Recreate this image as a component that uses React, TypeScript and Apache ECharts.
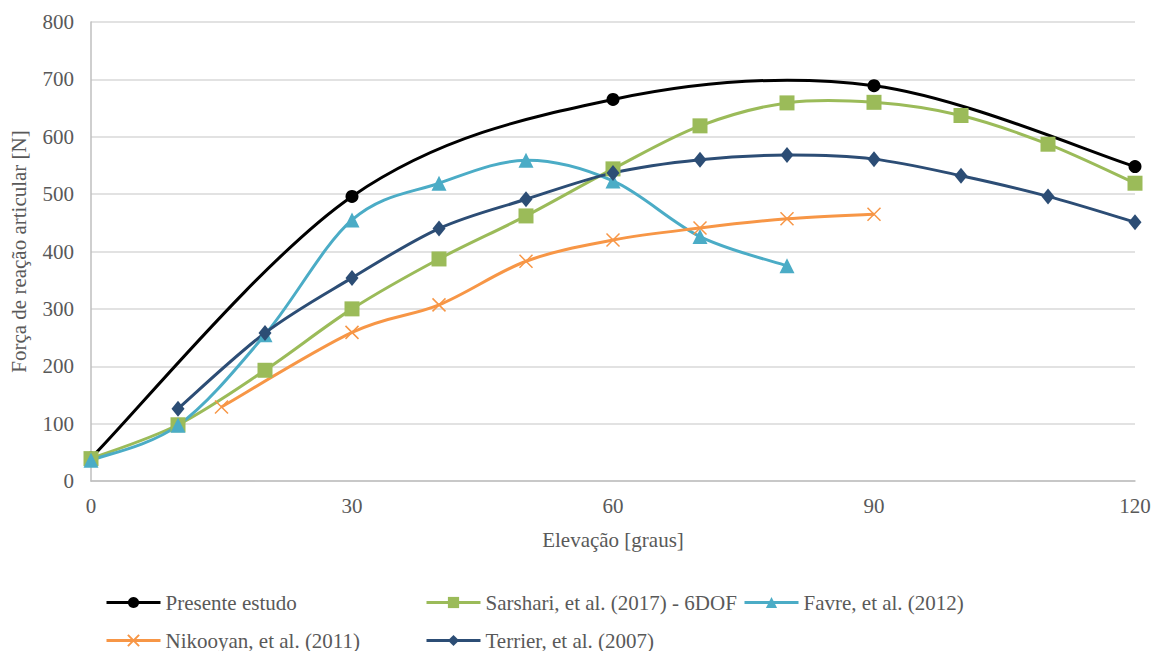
import React, { useEffect, useRef } from "react";
import * as echarts from "echarts";

const presenteX = [0, 30, 60, 90, 120];
const presenteY = [40, 496, 665, 689, 548];
const sarshariX = [0, 10, 20, 30, 40, 50, 60, 70, 80, 90, 100, 110, 120];
const sarshariY = [39, 98, 193, 300, 387, 462, 544, 619, 659, 660, 637, 587, 519];
const favreX = [0, 10, 20, 30, 40, 50, 60, 70, 80];
const favreY = [36, 97, 255, 455, 519, 559, 523, 426, 375];
const nikooyanX = [15, 30, 40, 50, 60, 70, 80, 90];
const nikooyanY = [129, 259, 307, 383, 420, 441, 457, 465];
const terrierX = [10, 20, 30, 40, 50, 60, 70, 80, 90, 100, 110, 120];
const terrierY = [126, 258, 354, 440, 491, 537, 560, 568, 561, 532, 496, 451];

const xTicks = [0, 30, 60, 90, 120];

const FONT = "Liberation Serif";
const FS = 21;
const TXT = "#595959";

const pairs = (xs: number[], ys: number[]) => xs.map((x, i) => [x, ys[i]]);

function smoothPath(pts: number[][]) {
  const n = pts.length;
  let d = `M${pts[0][0]},${pts[0][1]}`;
  for (let i = 0; i < n - 1; i++) {
    const p0 = pts[Math.max(0, i - 1)];
    const p1 = pts[i];
    const p2 = pts[i + 1];
    const p3 = pts[Math.min(n - 1, i + 2)];
    const c1x = p1[0] + (p2[0] - p0[0]) / 6;
    const c1y = p1[1] + (p2[1] - p0[1]) / 6;
    const c2x = p2[0] - (p3[0] - p1[0]) / 6;
    const c2y = p2[1] - (p3[1] - p1[1]) / 6;
    d += `C${c1x},${c1y},${c2x},${c2y},${p2[0]},${p2[1]}`;
  }
  return d;
}

export default function App() {
  const ref = useRef<HTMLDivElement>(null);
  useEffect(() => {
    if (!ref.current) return;
    const chart = echarts.init(ref.current, undefined, { renderer: "svg" });
    const legendBase = () => ({
      itemWidth: 54,
      itemHeight: 14,
      padding: 0,
      itemGap: 0,
      textStyle: { fontFamily: FONT, fontSize: FS, color: TXT },
    });
    const defs = [
      { name: "Presente estudo", xs: presenteX, ys: presenteY, color: "#000000", symbol: "circle", size: 13 },
      { name: "Sarshari, et al. (2017) - 6DOF", xs: sarshariX, ys: sarshariY, color: "#9bbb59", symbol: "rect", size: 15 },
      { name: "Favre, et al. (2012)", xs: favreX, ys: favreY, color: "#4bacc6", symbol: "triangle", size: 15 },
      { name: "Nikooyan, et al. (2011)", xs: nikooyanX, ys: nikooyanY, color: "#f79646", symbol: "path://M0,0L10,10M10,0L0,10", size: 13 },
      { name: "Terrier, et al. (2007)", xs: terrierX, ys: terrierY, color: "#2c4d75", symbol: "diamond", size: [13, 16] },
    ];
    const curves = defs.map((s, k) => ({
      name: s.name + " (curva)",
      type: "custom",
      z: 2 + k,
      silent: true,
      data: pairs(s.xs, s.ys),
      encode: { x: 0, y: 1 },
      renderItem: (params: any, api: any) => {
        if (params.dataIndex !== 0) return null;
        const pts = s.xs.map((x, i) => api.coord([x, s.ys[i]]));
        return {
          type: "path",
          shape: { pathData: smoothPath(pts) },
          style: { fill: "none", stroke: s.color, lineWidth: 3 },
        };
      },
    }));
    const marks = defs.map((s, k) => ({
      name: s.name,
      type: "line",
      z: 10 + k,
      data: pairs(s.xs, s.ys),
      symbol: s.symbol,
      symbolSize: s.size,
      showSymbol: true,
      lineStyle: { color: s.color, width: 3, opacity: 0 },
      itemStyle:
        s.symbol.startsWith("path")
          ? { color: s.color, borderColor: s.color, borderWidth: 1.5 }
          : { color: s.color },
    }));
    const legendItem = (i: number) => ({
      name: defs[i].name,
      lineStyle: { color: defs[i].color, width: 3, opacity: 1 },
    });
    chart.setOption({
      animation: false,
      backgroundColor: "#ffffff",
      grid: { left: 89, right: 21, top: 22, bottom: 170, containLabel: false },
      legend: [
        { ...legendBase(), data: [legendItem(0)], left: 105, top: 592 },
        { ...legendBase(), data: [legendItem(1)], left: 425, top: 592 },
        { ...legendBase(), data: [legendItem(2)], left: 743, top: 592 },
        { ...legendBase(), data: [legendItem(3)], left: 105, top: 630 },
        { ...legendBase(), data: [legendItem(4)], left: 425, top: 630 },
      ],
      xAxis: {
        type: "value",
        min: xTicks[0],
        max: xTicks[xTicks.length - 1],
        interval: 30,
        name: "Elevação [graus]",
        nameLocation: "middle",
        nameGap: 48,
        nameTextStyle: { fontFamily: FONT, fontSize: FS, color: TXT },
        axisLine: { show: true, lineStyle: { color: "#bfbfbf", width: 1.5 } },
        axisTick: { show: false },
        splitLine: { show: false },
        axisLabel: { fontFamily: FONT, fontSize: FS, color: TXT, margin: 14 },
      },
      yAxis: {
        type: "value",
        min: 0,
        max: 800,
        interval: 100,
        name: "Força de reação articular [N]",
        nameLocation: "middle",
        nameGap: 62,
        nameTextStyle: { fontFamily: FONT, fontSize: FS, color: TXT },
        axisLine: { show: true, lineStyle: { color: "#bfbfbf", width: 1.5 } },
        axisTick: { show: false },
        splitLine: { show: true, lineStyle: { color: "#d9d9d9", width: 1.5 } },
        axisLabel: { fontFamily: FONT, fontSize: FS, color: TXT, margin: 17 },
      },
      series: [...curves, ...marks],
    });
    return () => chart.dispose();
  }, []);
  return (
    <div
      ref={ref}
      style={{ position: "absolute", left: 0, top: 0, width: 1156, height: 651 }}
    />
  );
}
